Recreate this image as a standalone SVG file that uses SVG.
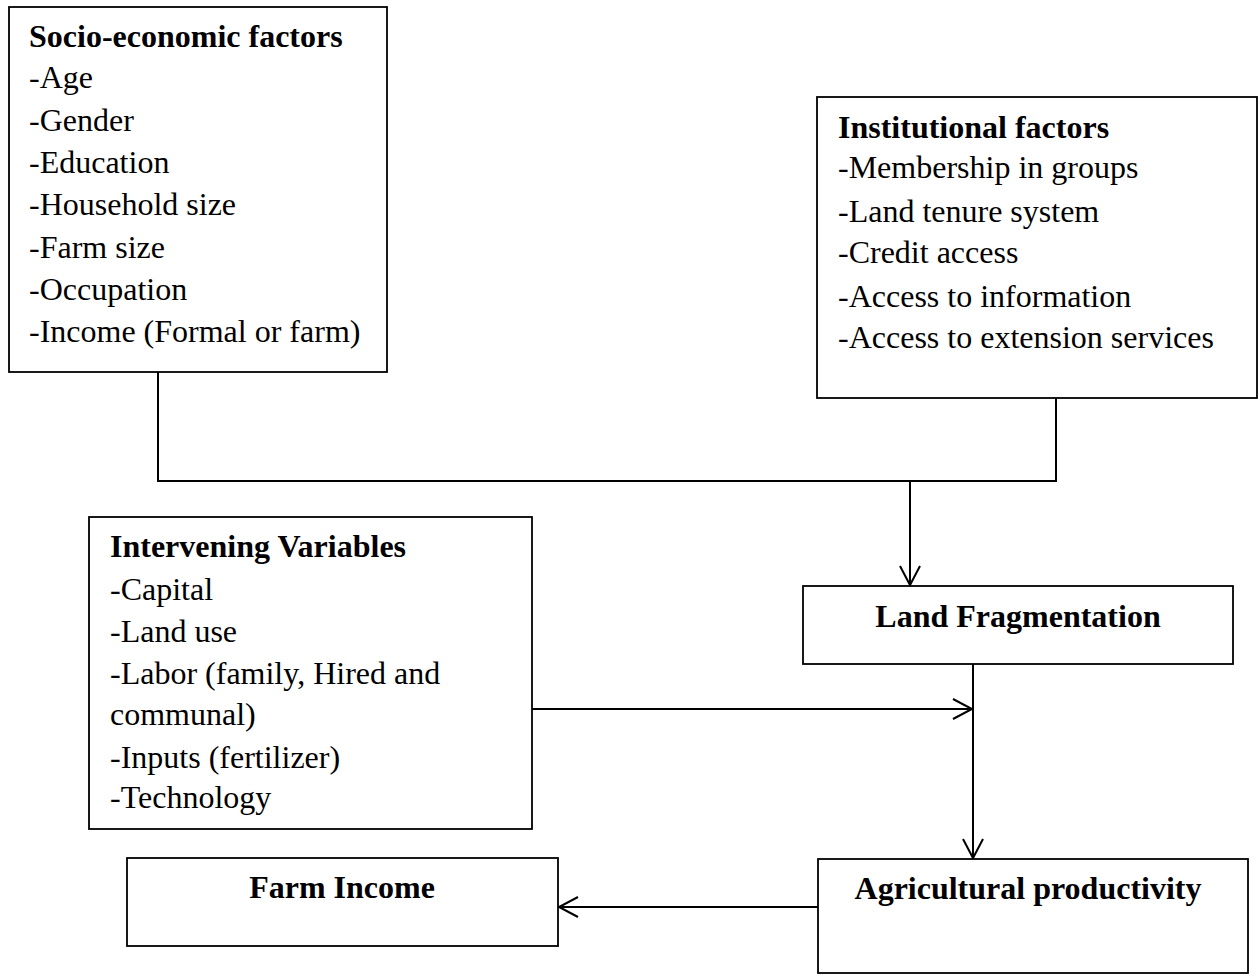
<svg xmlns="http://www.w3.org/2000/svg" width="1260" height="977" viewBox="0 0 1260 977">
<style>
.box{fill:#fff;stroke:#000;stroke-width:1.8}
.con{fill:none;stroke:#000;stroke-width:2}
text{font-family:"Liberation Serif","Times New Roman",serif;font-size:32px;fill:#000}
.b{font-weight:bold}
.c{text-anchor:middle}
</style>
<defs>
<marker id="arr" markerUnits="userSpaceOnUse" markerWidth="24" markerHeight="24" viewBox="-21 -12 24 24" refX="0" refY="0" orient="auto">
<path d="M-19,-10 L0,0 L-19,10" fill="none" stroke="#000" stroke-width="2"/>
</marker>
</defs>
<rect width="1260" height="977" fill="#fff"/>
<g id="connectors">
<path class="con" d="M158,372 V481 H1056 V398"/>
<path class="con" d="M910,481 V585" marker-end="url(#arr)"/>
<path class="con" d="M532,709 H972" marker-end="url(#arr)"/>
<path class="con" d="M973,664 V858" marker-end="url(#arr)"/>
<path class="con" d="M818,907 H559" marker-end="url(#arr)"/>
</g>
<g id="socio">
<rect class="box" x="9" y="7" width="378" height="365"/>
<text class="b" x="29" y="47">Socio-economic factors</text>
<text x="29" y="88">-Age</text>
<text x="29" y="131">-Gender</text>
<text x="29" y="173">-Education</text>
<text x="29" y="215">-Household size</text>
<text x="29" y="258">-Farm size</text>
<text x="29" y="300">-Occupation</text>
<text x="29" y="342">-Income (Formal or farm)</text>
</g>
<g id="institutional">
<rect class="box" x="817" y="97" width="440" height="301"/>
<text class="b" x="838" y="138">Institutional factors</text>
<text x="838" y="178">-Membership in groups</text>
<text x="838" y="222">-Land tenure system</text>
<text x="838" y="263">-Credit access</text>
<text x="838" y="307">-Access to information</text>
<text x="838" y="348">-Access to extension services</text>
</g>
<g id="intervening">
<rect class="box" x="89" y="517" width="443" height="312"/>
<text class="b" x="110" y="557">Intervening Variables</text>
<text x="110" y="600">-Capital</text>
<text x="110" y="642">-Land use</text>
<text x="110" y="684">-Labor (family, Hired and</text>
<text x="110" y="725">communal)</text>
<text x="110" y="768">-Inputs (fertilizer)</text>
<text x="110" y="808">-Technology</text>
</g>
<g id="land-fragmentation">
<rect class="box" x="803" y="586" width="430" height="78"/>
<text class="b c" x="1018" y="627">Land Fragmentation</text>
</g>
<g id="agricultural-productivity">
<rect class="box" x="818" y="859" width="430" height="114"/>
<text class="b c" x="1028" y="899">Agricultural productivity</text>
</g>
<g id="farm-income">
<rect class="box" x="127" y="858" width="431" height="88"/>
<text class="b c" x="342" y="898">Farm Income</text>
</g>
</svg>
